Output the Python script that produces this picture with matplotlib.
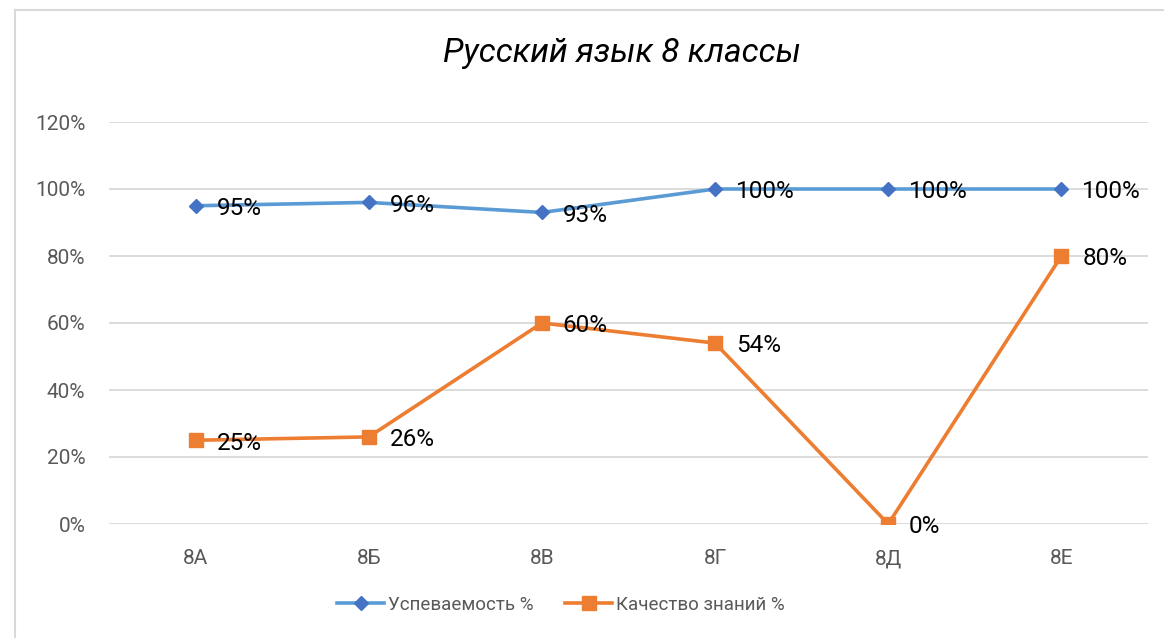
import matplotlib.pyplot as plt
from matplotlib.lines import Line2D

# Данные
klassy = ['8А', '8Б', '8В', '8Г', '8Д', '8Е']
uspevaemost = [95, 96, 93, 100, 100, 100]
kachestvo = [25, 26, 60, 54, 0, 80]
y_ticks = [0, 20, 40, 60, 80, 100, 120]

plt.rcParams['font.family'] = ['Roboto', 'DejaVu Sans']

fig = plt.figure(figsize=(11.64, 6.38), dpi=100, facecolor='white')
ax = fig.add_axes([109 / 1164, 1 - 524 / 638, (1148 - 109) / 1164, (524 - 122) / 638])

x = list(range(len(klassy)))
ax.plot(x, uspevaemost, color='#5B9BD5', lw=2.6, marker='D', markersize=7,
        markerfacecolor='#4472C4', markeredgecolor='#4472C4', label='Успеваемость %', zorder=3)
ax.plot(x, kachestvo, color='#ED7D31', lw=2.6, marker='s', markersize=9.5,
        markerfacecolor='#ED7D31', markeredgecolor='#ED7D31', label='Качество знаний %', zorder=3)

for xi, v in zip(x, uspevaemost):
    ax.annotate(f'{v}%', (xi, v), xytext=(15, -2), textcoords='offset points',
                va='center', ha='left', fontsize=17.5, color='black', zorder=4)
for xi, v in zip(x, kachestvo):
    ax.annotate(f'{v}%', (xi, v), xytext=(15, -2), textcoords='offset points',
                va='center', ha='left', fontsize=17.5, color='black', zorder=4)

ax.set_xlim(-0.5, 5.5)
ax.set_ylim(0, 120)
ax.set_yticks(y_ticks)
ax.set_yticklabels([f'{t}%' for t in y_ticks])
ax.set_xticks(x)
ax.set_xticklabels(klassy)
ax.tick_params(axis='both', length=0, labelsize=15, colors='#595959')
ax.tick_params(axis='y', pad=17)
ax.tick_params(axis='x', pad=18)
ax.grid(axis='y', color='#D9D9D9', lw=1.3)
ax.set_axisbelow(True)
for s in ax.spines.values():
    s.set_visible(False)

fig.text(622 / 1164, 1 - 53 / 638, 'Русский язык 8 классы', ha='center', va='center',
         fontsize=24, style='italic', color='black')

fig.legend(loc='center', bbox_to_anchor=(561 / 1164, 1 - 605 / 638), ncol=2, frameon=False,
           fontsize=13.5, labelcolor='#595959', handlelength=2.5, columnspacing=1.7, handletextpad=0.2)

# рамка диаграммы
fig.add_artist(Line2D([15 / 1164, 15 / 1164], [0, 1 - 10 / 638], color='#D9D9D9', lw=1.5))
fig.add_artist(Line2D([15 / 1164, 1], [1 - 10 / 638, 1 - 10 / 638], color='#D9D9D9', lw=1.5))

fig.savefig('out.png', dpi=100, facecolor='white')
